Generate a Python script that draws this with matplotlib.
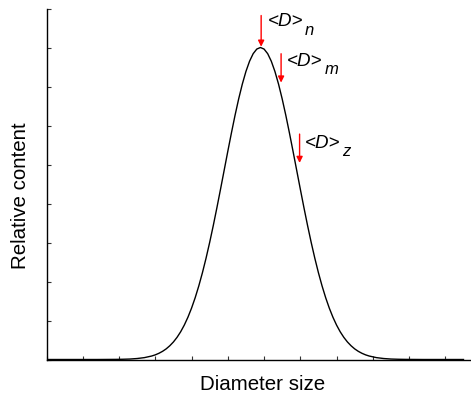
import matplotlib
matplotlib.use("Agg")
import matplotlib.pyplot as plt

plt.rcParams['font.family'] = ['Liberation Sans', 'DejaVu Sans']

# Distribution curve
x_vals = [0.0, 1.4, 1.9, 2.1, 2.3, 2.5, 2.7, 2.9, 3.0, 3.1, 3.2, 3.3, 3.4, 3.5, 3.6, 3.7,
          3.8, 3.9, 4.0, 4.1, 4.2, 4.3, 4.4, 4.5, 4.6, 4.7, 4.8, 4.9, 5.0, 5.1, 5.2, 5.3,
          5.4, 5.5, 5.6, 5.7, 5.8, 5.9, 6.0, 6.1, 6.2, 6.3, 6.4, 6.5, 6.6, 6.7, 6.8, 6.9,
          7.0, 7.1, 7.2, 7.3, 7.4, 7.5, 7.6, 7.7, 7.8, 7.9, 8.0, 8.1, 8.2, 8.3, 8.4, 8.5,
          8.6, 8.7, 8.8, 8.9, 9.1, 9.3, 9.5, 9.7, 9.9, 10.4, 11.5]
y_vals = [0.0, 0.0, 0.003, 0.006, 0.012, 0.025, 0.048, 0.089, 0.119, 0.159, 0.209, 0.272,
          0.352, 0.449, 0.568, 0.711, 0.882, 1.083, 1.316, 1.583, 1.886, 2.224, 2.597,
          3.002, 3.436, 3.894, 4.369, 4.852, 5.336, 5.809, 6.262, 6.682, 7.060, 7.385,
          7.648, 7.842, 7.960, 8.000, 7.960, 7.842, 7.648, 7.385, 7.060, 6.682, 6.262,
          5.809, 5.336, 4.852, 4.369, 3.894, 3.436, 3.002, 2.597, 2.224, 1.886, 1.583,
          1.316, 1.083, 0.882, 0.711, 0.568, 0.449, 0.352, 0.272, 0.209, 0.159, 0.119,
          0.089, 0.048, 0.025, 0.012, 0.006, 0.003, 0.0, 0.0]

# Averages marked with arrows
avg_subs = ['n', 'm', 'z']
avg_x = [5.92, 6.47, 6.98]
arrow_tail_y = [8.82, 7.84, 5.78]
arrow_head_y = [8.02, 7.10, 5.04]
label_x = [6.09, 6.64, 7.13]
label_y = [8.55, 7.53, 5.43]

fig = plt.figure(figsize=(4.71, 3.96), dpi=100)
ax = fig.add_axes([46.5/471, 1-359.5/396, (470-46.5)/471, (359.5-8.5)/396])

ax.plot(x_vals, y_vals, color='black', lw=1.0)

for sub, x, yt, yh, lx, ly in zip(avg_subs, avg_x, arrow_tail_y, arrow_head_y, label_x, label_y):
    ax.annotate('', xy=(x, yh), xytext=(x, yt),
                arrowprops=dict(arrowstyle='-|>', color='red', lw=1.0,
                                mutation_scale=9, shrinkA=0, shrinkB=0))
    t = ax.text(lx, ly, '<D>', fontsize=13.5, style='italic', color='black',
                ha='left', va='baseline')
    ax.annotate(sub, xy=(1, 0), xycoords=t, xytext=(1.5, -4.5),
                textcoords='offset pixels', fontsize=12, style='italic',
                ha='left', va='baseline')

ax.set_xlim(0, 11.68)
ax.set_ylim(0, 9.0)
ax.set_xticks(range(0, 12))
ax.set_yticks(range(0, 10))
ax.tick_params(direction='in', length=3, width=0.8, labelbottom=False, labelleft=False,
               colors='#333333')
for s in ['top', 'right']:
    ax.spines[s].set_visible(False)
for s in ['left', 'bottom']:
    ax.spines[s].set_linewidth(1.0)
    ax.spines[s].set_color('black')

fig.text(262.5/471, 1-390/396, 'Diameter size', fontsize=14.8, ha='center', va='baseline')
fig.text(26/471, 1-196/396, 'Relative content', fontsize=14.8, rotation=90,
         rotation_mode='anchor', ha='center', va='baseline')

fig.savefig('out.png', dpi=100)
